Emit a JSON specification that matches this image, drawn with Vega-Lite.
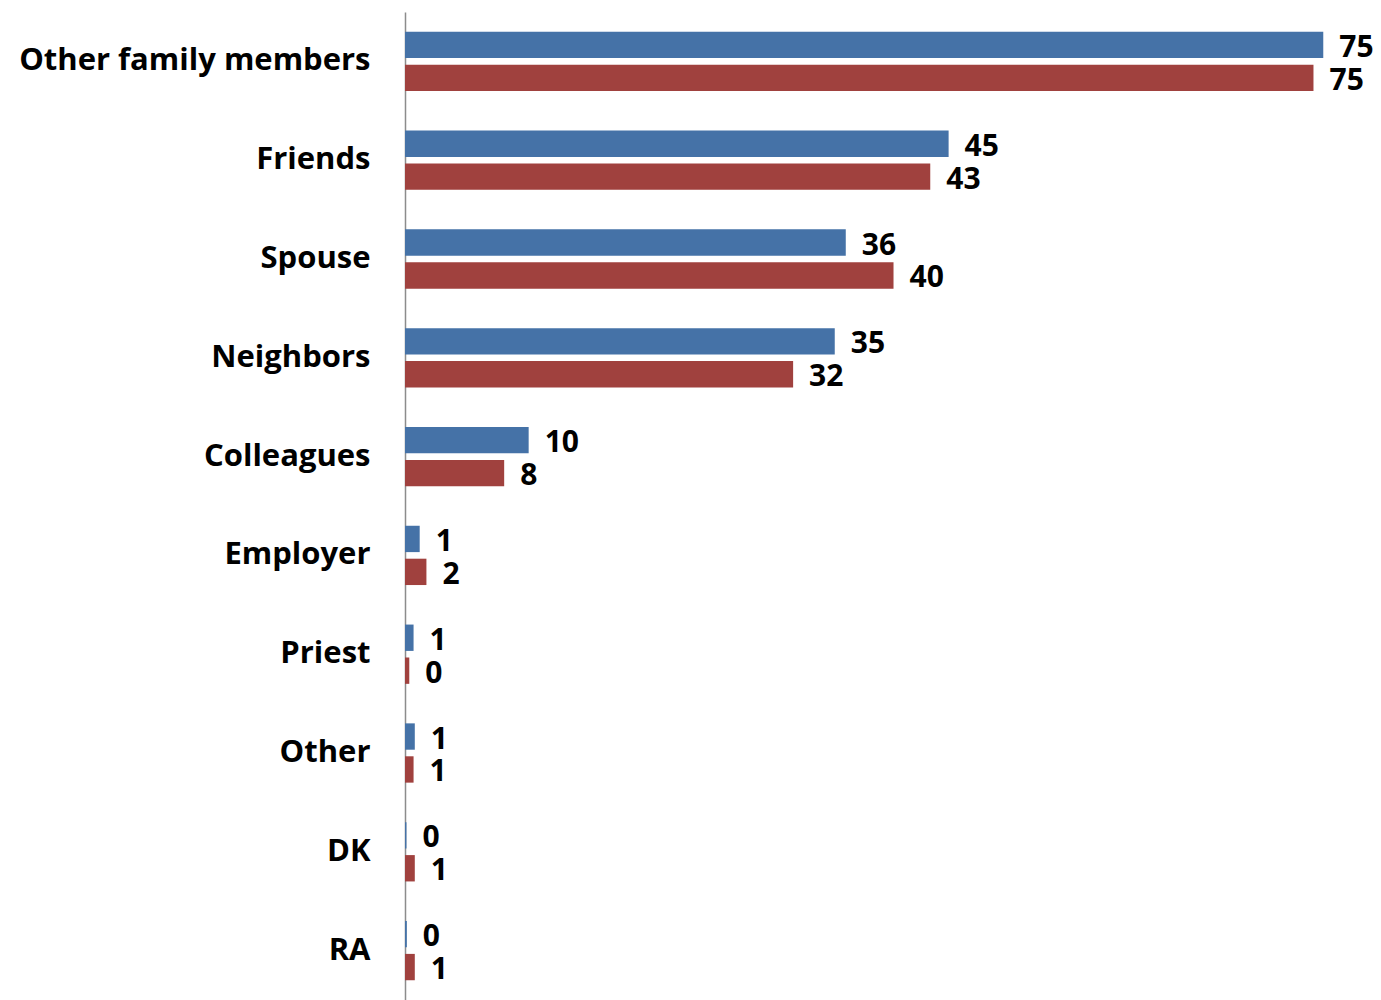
{
  "$schema": "https://vega.github.io/schema/vega-lite/v6.json",
  "autosize": {"type": "none"},
  "padding": {"left": 405, "top": 12, "right": 21, "bottom": 0},
  "width": 955,
  "height": 988,
  "background": "white",
  "config": {"view": {"stroke": null}},
  "data": {
    "values": [
      {"category": "Other family members", "series": "A", "value": 75.0, "label": "75"},
      {"category": "Other family members", "series": "B", "value": 74.2, "label": "75"},
      {"category": "Friends", "series": "A", "value": 44.4, "label": "45"},
      {"category": "Friends", "series": "B", "value": 42.9, "label": "43"},
      {"category": "Spouse", "series": "A", "value": 36.0, "label": "36"},
      {"category": "Spouse", "series": "B", "value": 39.9, "label": "40"},
      {"category": "Neighbors", "series": "A", "value": 35.1, "label": "35"},
      {"category": "Neighbors", "series": "B", "value": 31.7, "label": "32"},
      {"category": "Colleagues", "series": "A", "value": 10.1, "label": "10"},
      {"category": "Colleagues", "series": "B", "value": 8.1, "label": "8"},
      {"category": "Employer", "series": "A", "value": 1.2, "label": "1"},
      {"category": "Employer", "series": "B", "value": 1.75, "label": "2"},
      {"category": "Priest", "series": "A", "value": 0.7, "label": "1"},
      {"category": "Priest", "series": "B", "value": 0.35, "label": "0"},
      {"category": "Other", "series": "A", "value": 0.8, "label": "1"},
      {"category": "Other", "series": "B", "value": 0.7, "label": "1"},
      {"category": "DK", "series": "A", "value": 0.12, "label": "0"},
      {"category": "DK", "series": "B", "value": 0.8, "label": "1"},
      {"category": "RA", "series": "A", "value": 0.15, "label": "0"},
      {"category": "RA", "series": "B", "value": 0.8, "label": "1"}
    ]
  },
  "encoding": {
    "y": {
      "field": "category",
      "type": "nominal",
      "sort": null,
      "scale": {"paddingInner": 0.4, "paddingOuter": 0.2},
      "axis": {
        "title": null,
        "ticks": false,
        "domain": true,
        "domainColor": "#8c8c8c",
        "domainWidth": 1.5,
        "labelFont": "Open Sans",
        "labelFontWeight": "bold",
        "labelFontSize": 31,
        "labelColor": "#000000",
        "labelPadding": 35,
        "labelOffset": 0,
        "labelLimit": 0
      }
    },
    "yOffset": {
      "field": "series",
      "type": "nominal",
      "scale": {"paddingInner": 0.2, "paddingOuter": 0}
    },
    "x": {
      "field": "value",
      "type": "quantitative",
      "scale": {"domain": [0, 78], "nice": false},
      "axis": null
    }
  },
  "layer": [
    {
      "mark": {"type": "bar"},
      "encoding": {
        "color": {
          "field": "series",
          "type": "nominal",
          "scale": {"domain": ["A", "B"], "range": ["#4572A7", "#A0413E"]},
          "legend": null
        }
      }
    },
    {
      "mark": {
        "type": "text",
        "align": "left",
        "baseline": "middle",
        "dx": 16,
        "dy": 3,
        "font": "Open Sans",
        "fontWeight": "bold",
        "fontSize": 30,
        "color": "#000000"
      },
      "encoding": {
        "text": {"field": "label", "type": "nominal"}
      }
    }
  ]
}
